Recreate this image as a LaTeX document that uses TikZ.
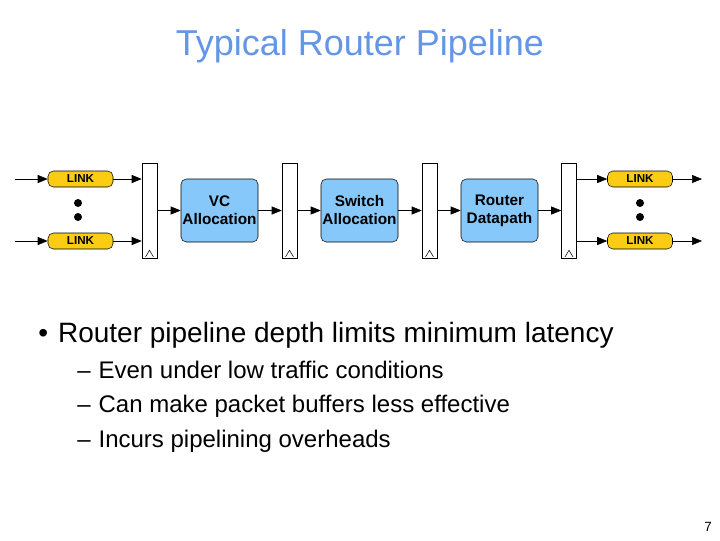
\documentclass[tikz,border=0pt]{standalone}
\usepackage{fontspec}
\setmainfont{Liberation Sans}
\usetikzlibrary{arrows.meta,positioning}
\definecolor{titleblue}{RGB}{100,150,230}
\definecolor{linkyellow}{RGB}{250,205,20}
\definecolor{stageblue}{RGB}{135,200,250}

\begin{document}
\begin{tikzpicture}[
    x=0.75pt,y=-0.75pt,
    >={Triangle[length=7.5pt,width=6pt]},
    link/.style={draw,rounded corners=4pt,fill=linkyellow,minimum width=48.75pt,minimum height=12pt,inner sep=0pt,font=\fontsize{8.7}{9}\selectfont\bfseries},
    stage/.style={draw,rounded corners=4pt,fill=stageblue,minimum width=57.75pt,minimum height=47.25pt,inner sep=0pt,align=center,font=\fontsize{11.5}{13.5}\selectfont\bfseries},
    reg/.style={draw,fill=white,minimum width=11.25pt,minimum height=71.25pt,inner sep=0pt},
    dot/.style={circle,fill=black,inner sep=0pt,minimum size=6pt}
    ]
    \useasboundingbox (0,0) rectangle (720,540);

    % title:
    \node (title) at (360,46) [text=titleblue,font=\fontsize{27}{31}\selectfont] {Typical Router Pipeline};

    % pipeline registers:
    \foreach \x [count=\i] in {149.5,289.5,429.5,569}
    {
      \node (r\i) at (\x,210.5) [reg] {};
      \draw ([xshift=-3pt,yshift=1pt]r\i.south) -- ([yshift=6pt]r\i.south) -- ([xshift=3pt,yshift=1pt]r\i.south);
    }

    % stages:
    \node (vc) at (219.5,210.5) [stage] {VC\\Allocation};
    \node (sw) at (359.5,210.5) [stage] {Switch\\Allocation};
    \node (rd) at (499.5,210.5) [stage] {Router\\Datapath};

    % links:
    \node (lt) at (80.5,179) [link] {LINK};
    \node (lb) at (80.5,241) [link] {LINK};
    \node (rt) at (640,179) [link] {LINK};
    \node (rb) at (640,241) [link] {LINK};
    \node (ld1) at (78,203) [dot] {};
    \node (ld2) at (78,217) [dot] {};
    \node (rd1) at (640,203) [dot] {};
    \node (rd2) at (640,217) [dot] {};

    \coordinate (inT) at (15,179);
    \coordinate (inB) at (15,241);
    \coordinate (outT) at (702,179);
    \coordinate (outB) at (702,241);

    % connections:
    \draw [->] (inT) -- (lt);
    \draw [->] (inB) -- (lb);
    \draw [->] (lt) -- (lt -| r1.west);
    \draw [->] (lb) -- (lb -| r1.west);
    \draw [->] (r1) -- (vc);
    \draw [->] (vc) -- (r2);
    \draw [->] (r2) -- (sw);
    \draw [->] (sw) -- (r3);
    \draw [->] (r3) -- (rd);
    \draw [->] (rd) -- (r4);
    \draw [->] (rt -| r4.east) -- (rt);
    \draw [->] (rb -| r4.east) -- (rb);
    \draw [->] (rt) -- (outT);
    \draw [->] (rb) -- (outB);

    % bullets:
    \node (b1) at (38,342) [anchor=base west,font=\fontsize{21}{25}\selectfont,inner sep=0pt] {\textbullet\hspace{7.5pt}Router pipeline depth limits minimum latency};
    \foreach \t [count=\i] in {Even under low traffic conditions,Can make packet buffers less effective,Incurs pipelining overheads}
    \node (s\i) at (77,343.5+\i*34.5) [anchor=base west,font=\fontsize{18}{21}\selectfont,inner sep=0pt] {--\hspace{6pt}\t};

    \node (page) at (708,527) [font=\fontsize{10}{12}\selectfont] {7};
  \end{tikzpicture}
\end{document}
